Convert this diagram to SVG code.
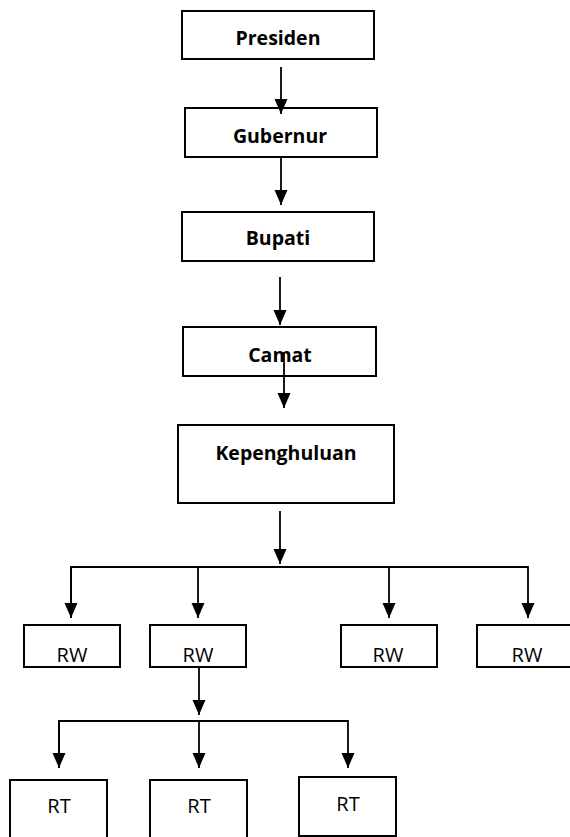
<svg xmlns="http://www.w3.org/2000/svg" width="570" height="837" viewBox="0 0 570 837">
<style>
.box{fill:#fff;stroke:#000;stroke-width:2}
.b{font-family:"Open Sans","Liberation Sans",sans-serif;font-weight:bold;font-size:19.5px;text-anchor:middle;fill:#000}
.r{font-family:"Open Sans","Liberation Sans",sans-serif;font-size:20px;text-anchor:middle;fill:#000}
.c{fill:none;stroke:#000;stroke-width:1.8}
</style>
<defs>
<marker id="ah" markerUnits="userSpaceOnUse" markerWidth="16" markerHeight="14" refX="15" refY="6.5" orient="auto">
<path d="M0,0 L15,6.5 L0,13 z" fill="#000"/>
</marker>
</defs>
<rect width="570" height="837" fill="#fff"/>
<g id="presiden"><rect class="box" x="182" y="11" width="192" height="48"/><text class="b" x="278" y="45">Presiden</text></g>
<g id="gubernur"><rect class="box" x="185" y="108" width="192" height="49"/><text class="b" x="280" y="143">Gubernur</text></g>
<g id="bupati"><rect class="box" x="182" y="212" width="192" height="49"/><text class="b" x="278" y="245">Bupati</text></g>
<g id="camat"><rect class="box" x="183" y="327" width="193" height="49"/><text class="b" x="280" y="362">Camat</text></g>
<g id="kepenghuluan"><rect class="box" x="178" y="425" width="216" height="78"/><text class="b" x="286" y="460">Kepenghuluan</text></g>
<g id="rw1"><rect class="box" x="24" y="625" width="96" height="42"/><text class="r" x="72" y="662">RW</text></g>
<g id="rw2"><rect class="box" x="150" y="625" width="96" height="42"/><text class="r" x="198" y="662">RW</text></g>
<g id="rw3"><rect class="box" x="341" y="625" width="96" height="42"/><text class="r" x="388" y="662">RW</text></g>
<g id="rw4"><rect class="box" x="477" y="625" width="100" height="42"/><text class="r" x="527" y="662">RW</text></g>
<g id="rt1"><rect class="box" x="10" y="780" width="97" height="70"/><text class="r" x="59" y="813">RT</text></g>
<g id="rt2"><rect class="box" x="150" y="780" width="97" height="70"/><text class="r" x="199" y="813">RT</text></g>
<g id="rt3"><rect class="box" x="299" y="777" width="97" height="59"/><text class="r" x="348" y="811">RT</text></g>
<g id="connectors">
<line class="c" x1="281" y1="67" x2="281" y2="114" marker-end="url(#ah)"/>
<line class="c" x1="281" y1="157" x2="281" y2="205" marker-end="url(#ah)"/>
<line class="c" x1="280" y1="277" x2="280" y2="325" marker-end="url(#ah)"/>
<line class="c" x1="284" y1="352" x2="284" y2="408" marker-end="url(#ah)"/>
<line class="c" x1="280" y1="511" x2="280" y2="564" marker-end="url(#ah)"/>
<polyline class="c" points="71,618 71,567 528,567 528,618" marker-end="url(#ah)"/>
<line class="c" x1="71" y1="567" x2="71" y2="618" marker-end="url(#ah)"/>
<line class="c" x1="198" y1="567" x2="198" y2="618" marker-end="url(#ah)"/>
<line class="c" x1="389" y1="567" x2="389" y2="618" marker-end="url(#ah)"/>
<line class="c" x1="199" y1="667" x2="199" y2="715" marker-end="url(#ah)"/>
<polyline class="c" points="59,768 59,721 348,721 348,768" marker-end="url(#ah)"/>
<line class="c" x1="59" y1="721" x2="59" y2="768" marker-end="url(#ah)"/>
<line class="c" x1="199" y1="721" x2="199" y2="768" marker-end="url(#ah)"/>
</g>
</svg>
